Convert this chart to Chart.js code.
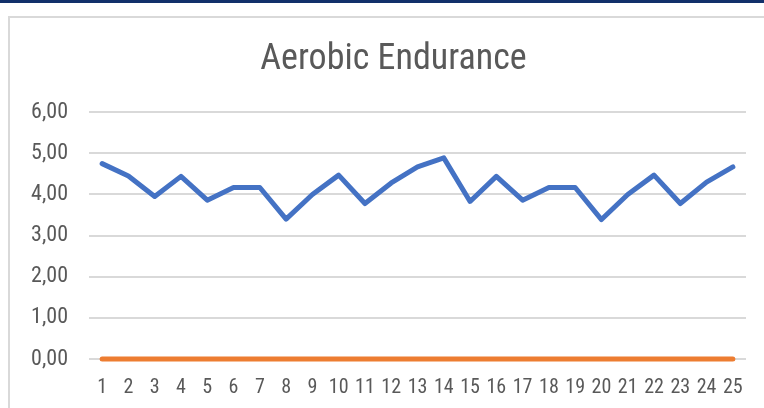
<!DOCTYPE html>
<html>
<head>
<meta charset="utf-8">
<script src="https://cdn.jsdelivr.net/npm/chart.js@4"></script>
<style>
  html, body { margin: 0; padding: 0; background: #fff; }
  .page { position: relative; width: 764px; height: 408px; overflow: hidden; }
  .topbar { position: absolute; left: 0; top: 0; width: 764px; height: 3px; background: #12306a; }
  .frame { position: absolute; left: 8px; top: 16px; width: 900px; height: 500px;
           border-left: 2px solid #d9d9d9; border-top: 2px solid #d9d9d9; }
  canvas { position: absolute; left: 0; top: 0; }
</style>
</head>
<body>
<div class="page">
  <div class="topbar"></div>
  <div class="frame"></div>
  <canvas id="myChart" width="764" height="408"></canvas>
</div>
<script>
var labels = ["1","2","3","4","5","6","7","8","9","10","11","12","13","14","15","16","17","18","19","20","21","22","23","24","25"];
var endurance = [4.75, 4.45, 3.95, 4.44, 3.86, 4.17, 4.17, 3.40, 4.00, 4.47, 3.78, 4.28, 4.67, 4.89, 3.83, 4.44, 3.86, 4.17, 4.17, 3.39, 4.00, 4.47, 3.78, 4.30, 4.67];
var baseline = [0, 0, 0, 0, 0, 0, 0, 0, 0, 0, 0, 0, 0, 0, 0, 0, 0, 0, 0, 0, 0, 0, 0, 0, 0];

var fontFamily = "'Liberation Sans Narrow', 'Roboto Condensed', 'Liberation Sans', Arial, sans-serif";
var textColor = "#595959";

// shift the title so it is centred like the original (Excel centres it on the frame)
var titleShift = {
  id: "titleShift",
  afterLayout: function (chart) {
    if (chart.titleBlock) chart.titleBlock.left = 41;
  }
};

var data = {
  labels: labels,
  datasets: [
    {
      label: "Series1",
      data: endurance,
      borderColor: "#4472c4",
      borderWidth: 5,
      borderCapStyle: "round",
      borderJoinStyle: "round",
      pointRadius: 0,
      tension: 0,
      clip: false
    },
    {
      label: "Series2",
      data: baseline,
      borderColor: "#ed7d31",
      borderWidth: 5,
      borderCapStyle: "round",
      pointRadius: 0,
      tension: 0,
      clip: false
    }
  ]
};

var options = {
  responsive: false,
  animation: false,
  layout: { padding: { left: 0, right: 18, top: 0, bottom: 8 } },
  plugins: {
    legend: { display: false },
    tooltip: { enabled: false },
    title: {
      display: true,
      text: "Aerobic Endurance",
      color: textColor,
      font: { family: fontFamily, size: 36, weight: "normal", lineHeight: 1.2 },
      padding: { top: 38, bottom: 31 }
    }
  },
  scales: {
    x: {
      offset: true,
      afterFit: function (scale) { scale.height = 41; },
      grid: { display: false, drawTicks: false },
      border: { display: false },
      ticks: {
        color: textColor,
        padding: 17,
        maxRotation: 0,
        autoSkip: false,
        font: { family: fontFamily, size: 20, lineHeight: 1.2 }
      }
    },
    y: {
      min: 0,
      max: 6,
      afterFit: function (scale) { scale.width = 89; },
      grid: { color: "#d9d9d9", lineWidth: 2, drawTicks: false },
      border: { display: false },
      ticks: {
        stepSize: 1,
        color: textColor,
        padding: 21,
        font: { family: fontFamily, size: 22 },
        callback: function (v) { return v.toFixed(2).replace(".", ","); }
      }
    }
  }
};

new Chart(document.getElementById("myChart"), {
  type: "line",
  data: data,
  options: options,
  plugins: [titleShift]
});
</script>
</body>
</html>
